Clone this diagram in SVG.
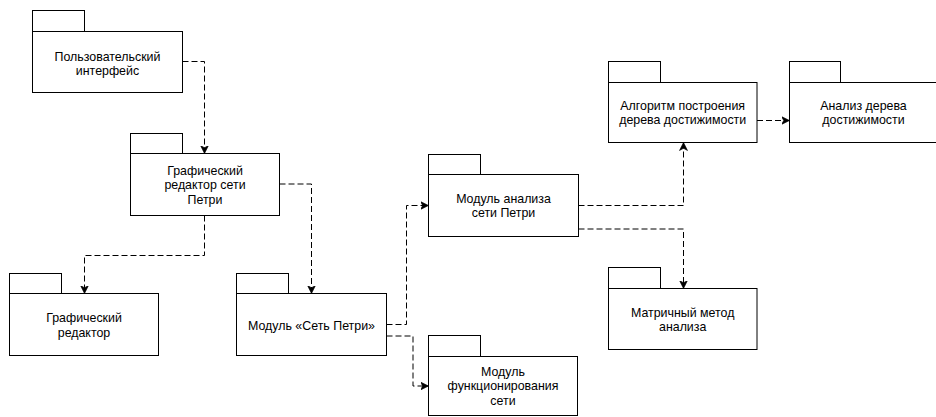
<svg xmlns="http://www.w3.org/2000/svg" width="936" height="417" viewBox="0 0 936 417">
  <style>
    .pkg { fill: #ffffff; stroke: #000000; stroke-width: 1; }
    .lbl { font-family: "Liberation Sans", Arial, Helvetica, sans-serif; font-size: 12.4px; fill: #000000; text-anchor: middle; }
    .dep { fill: none; stroke: #000000; stroke-width: 1; stroke-dasharray: 6 3; marker-end: url(#arrow); }
  </style>
  <defs>
    <marker id="arrow" viewBox="0 -5 10 10" refX="8" refY="0" markerWidth="10" markerHeight="10" markerUnits="userSpaceOnUse" orient="auto">
      <path d="M0,-4 L8,0 L0,4 L2.2,0 Z" fill="#000000" stroke="#000000" stroke-width="0.6" stroke-linejoin="miter"/>
    </marker>
  </defs>
  <rect width="936" height="417" fill="#ffffff"/>

  <!-- dependencies -->
  <g id="connectors">
    <path class="dep" d="M182.5,61.5 H204.5 V153.5"/>
    <path class="dep" d="M279.5,184 H311.5 V293.5"/>
    <path class="dep" d="M204.5,215.5 V255.5 H84.5 V293.5"/>
    <path class="dep" d="M386.5,324.5 H406.5 V205.5 H428.5"/>
    <path class="dep" d="M386.5,336 H413 V386 H428.5"/>
    <path class="dep" d="M578.5,205.5 H683.5 V142.5"/>
    <path class="dep" d="M578.5,229 H683.5 V288.5"/>
    <path class="dep" d="M757,120.5 H789.5"/>
  </g>

  <!-- packages -->
  <g id="user-interface">
    <rect class="pkg" x="32.5" y="10.5" width="52" height="21"/>
    <rect class="pkg" x="32.5" y="31.5" width="150" height="61"/>
    <text class="lbl" x="107.5" y="60.5">Пользовательский</text>
    <text class="lbl" x="107.5" y="75">интерфейс</text>
  </g>

  <g id="petri-graphic-editor">
    <rect class="pkg" x="130.5" y="133.5" width="52" height="20"/>
    <rect class="pkg" x="130.5" y="153.5" width="149" height="62"/>
    <text class="lbl" x="205" y="174.8">Графический</text>
    <text class="lbl" x="205" y="189.2">редактор сети</text>
    <text class="lbl" x="205" y="203.6">Петри</text>
  </g>

  <g id="graphic-editor">
    <rect class="pkg" x="9.5" y="273.5" width="52" height="20"/>
    <rect class="pkg" x="9.5" y="293.5" width="149" height="62"/>
    <text class="lbl" x="84" y="321.8">Графический</text>
    <text class="lbl" x="84" y="336.7">редактор</text>
  </g>

  <g id="petri-net-module">
    <rect class="pkg" x="236.5" y="273.5" width="52" height="20"/>
    <rect class="pkg" x="236.5" y="293.5" width="150" height="62"/>
    <text class="lbl" x="311.5" y="329.5">Модуль «Сеть Петри»</text>
  </g>

  <g id="analysis-module">
    <rect class="pkg" x="428.5" y="154.5" width="52" height="20"/>
    <rect class="pkg" x="428.5" y="174.5" width="150" height="62"/>
    <text class="lbl" x="503.5" y="202.7">Модуль анализа</text>
    <text class="lbl" x="503.5" y="217.1">сети Петри</text>
  </g>

  <g id="tree-algorithm">
    <rect class="pkg" x="608.5" y="61.5" width="52" height="21"/>
    <rect class="pkg" x="608.5" y="82.5" width="148.5" height="60"/>
    <text class="lbl" x="682.7" y="110">Алгоритм построения</text>
    <text class="lbl" x="682.7" y="124.4">дерева достижимости</text>
  </g>

  <g id="tree-analysis">
    <rect class="pkg" x="789.5" y="61.5" width="51" height="21"/>
    <rect class="pkg" x="789.5" y="82.5" width="149" height="60"/>
    <text class="lbl" x="863.5" y="110">Анализ дерева</text>
    <text class="lbl" x="863.5" y="124.4">достижимости</text>
  </g>

  <g id="matrix-method">
    <rect class="pkg" x="608.5" y="267.5" width="52" height="21"/>
    <rect class="pkg" x="608.5" y="288.5" width="148.5" height="61"/>
    <text class="lbl" x="682.7" y="316.6">Матричный метод</text>
    <text class="lbl" x="682.7" y="331">анализа</text>
  </g>

  <g id="functioning-module">
    <rect class="pkg" x="428.5" y="335.5" width="52" height="21"/>
    <rect class="pkg" x="428.5" y="356.5" width="149" height="59"/>
    <text class="lbl" x="503" y="376">Модуль</text>
    <text class="lbl" x="503" y="390.4">функционирования</text>
    <text class="lbl" x="503" y="404.8">сети</text>
  </g>
</svg>
